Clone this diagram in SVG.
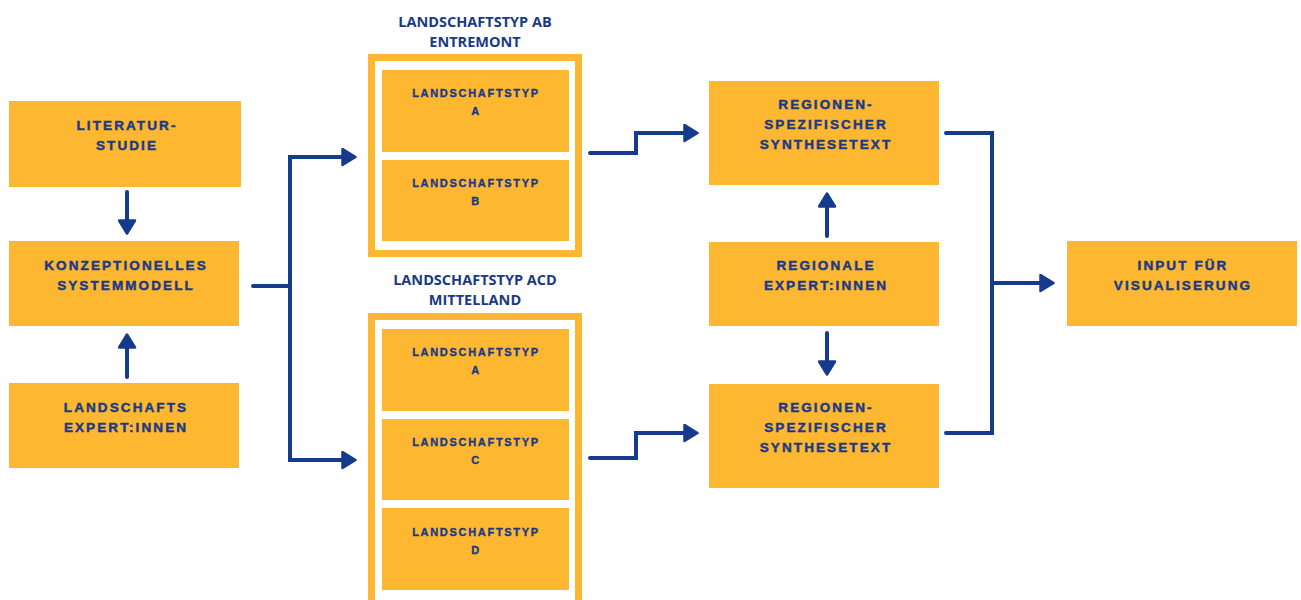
<svg xmlns="http://www.w3.org/2000/svg" width="1301" height="600" viewBox="0 0 1301 600">
  <defs>
    <style>
      .box { fill: #FDB731; }
      .frame { fill: none; stroke: #FDB731; stroke-width: 7; }
      .lbl { font-family: "Liberation Sans", Arial, sans-serif; font-weight: bold; font-size: 13.5px; letter-spacing: 2.1px; fill: #1B3A86; stroke: #1B3A86; stroke-width: 0.45; text-anchor: middle; }
      .sub { font-family: "Liberation Sans", Arial, sans-serif; font-weight: bold; font-size: 11px; letter-spacing: 1.7px; fill: #1B3A86; stroke: #1B3A86; stroke-width: 0.35; text-anchor: middle; }
      .title { font-family: "Open Sans", "Liberation Sans", sans-serif; font-weight: bold; font-size: 14.5px; fill: #1B3A86; text-anchor: middle; }
      .wire { fill: none; stroke: #163A8C; stroke-width: 4; stroke-linecap: round; stroke-linejoin: miter; }
    </style>
    <marker id="head" viewBox="0 0 16 19" markerWidth="16" markerHeight="19" markerUnits="userSpaceOnUse" refX="8" refY="9.5" orient="auto">
      <path d="M1.5,1.5 L14.5,9.5 L1.5,17.5 Z" fill="#163A8C" stroke="#163A8C" stroke-width="2.5" stroke-linejoin="round"/>
    </marker>
  </defs>

  <rect width="1301" height="600" fill="#FFFFFF"/>

  <!-- left column -->
  <g id="literaturstudie">
    <rect class="box" x="9" y="101" width="232" height="86"/>
    <text class="lbl" x="127" y="130">LITERATUR-</text>
    <text class="lbl" x="127" y="150">STUDIE</text>
  </g>
  <g id="systemmodell">
    <rect class="box" x="9" y="241" width="230" height="85"/>
    <text class="lbl" x="126" y="270">KONZEPTIONELLES</text>
    <text class="lbl" x="126" y="290">SYSTEMMODELL</text>
  </g>
  <g id="landschaftsexperten">
    <rect class="box" x="9" y="383" width="230" height="85"/>
    <text class="lbl" x="126" y="412">LANDSCHAFTS</text>
    <text class="lbl" x="126" y="432">EXPERT:INNEN</text>
  </g>

  <!-- landscape type group AB -->
  <g id="gruppe-ab">
    <text class="title" x="475" y="27">LANDSCHAFTSTYP AB</text>
    <text class="title" x="475" y="47">ENTREMONT</text>
    <rect class="frame" x="371.5" y="57.5" width="207" height="196"/>
    <g id="ab-typ-a">
      <rect class="box" x="382" y="70" width="187" height="82"/>
      <text class="sub" x="476" y="97">LANDSCHAFTSTYP</text>
      <text class="sub" x="476" y="115">A</text>
    </g>
    <g id="ab-typ-b">
      <rect class="box" x="382" y="160" width="187" height="81"/>
      <text class="sub" x="476" y="187">LANDSCHAFTSTYP</text>
      <text class="sub" x="476" y="205">B</text>
    </g>
  </g>

  <!-- landscape type group ACD -->
  <g id="gruppe-acd">
    <text class="title" x="475" y="285">LANDSCHAFTSTYP ACD</text>
    <text class="title" x="475" y="305">MITTELLAND</text>
    <rect class="frame" x="371.5" y="316.5" width="207" height="290"/>
    <g id="acd-typ-a">
      <rect class="box" x="382" y="329" width="187" height="82"/>
      <text class="sub" x="476" y="356">LANDSCHAFTSTYP</text>
      <text class="sub" x="476" y="374">A</text>
    </g>
    <g id="acd-typ-c">
      <rect class="box" x="382" y="419" width="187" height="81"/>
      <text class="sub" x="476" y="446">LANDSCHAFTSTYP</text>
      <text class="sub" x="476" y="464">C</text>
    </g>
    <g id="acd-typ-d">
      <rect class="box" x="382" y="508" width="187" height="82"/>
      <text class="sub" x="476" y="536">LANDSCHAFTSTYP</text>
      <text class="sub" x="476" y="554">D</text>
    </g>
  </g>

  <!-- regional column -->
  <g id="synthese-oben">
    <rect class="box" x="709" y="81" width="230" height="104"/>
    <text class="lbl" x="826" y="109">REGIONEN-</text>
    <text class="lbl" x="826" y="129">SPEZIFISCHER</text>
    <text class="lbl" x="826" y="149">SYNTHESETEXT</text>
  </g>
  <g id="regionale-experten">
    <rect class="box" x="709" y="242" width="230" height="84"/>
    <text class="lbl" x="826" y="270">REGIONALE</text>
    <text class="lbl" x="826" y="290">EXPERT:INNEN</text>
  </g>
  <g id="synthese-unten">
    <rect class="box" x="709" y="384" width="230" height="104"/>
    <text class="lbl" x="826" y="412">REGIONEN-</text>
    <text class="lbl" x="826" y="432">SPEZIFISCHER</text>
    <text class="lbl" x="826" y="452">SYNTHESETEXT</text>
  </g>

  <g id="visualisierung">
    <rect class="box" x="1067" y="241" width="230" height="85"/>
    <text class="lbl" x="1183" y="270">INPUT FÜR</text>
    <text class="lbl" x="1183" y="290">VISUALISERUNG</text>
  </g>

  <!-- connectors -->
  <g id="connectors">
    <path class="wire" d="M127,192 V227" marker-end="url(#head)"/>
    <path class="wire" d="M127,377 V341" marker-end="url(#head)"/>
    <path class="wire" d="M253,286 H290"/>
    <path class="wire" d="M290,286 V157 H349" marker-end="url(#head)"/>
    <path class="wire" d="M290,286 V460 H349" marker-end="url(#head)"/>
    <path class="wire" d="M590,153 H636 V133 H691" marker-end="url(#head)"/>
    <path class="wire" d="M590,458 H636 V433 H691" marker-end="url(#head)"/>
    <path class="wire" d="M827,236 V200" marker-end="url(#head)"/>
    <path class="wire" d="M827,333 V368" marker-end="url(#head)"/>
    <path class="wire" d="M946,133 H992 V433 H946"/>
    <path class="wire" d="M992,283 H1047" marker-end="url(#head)"/>
  </g>
</svg>
